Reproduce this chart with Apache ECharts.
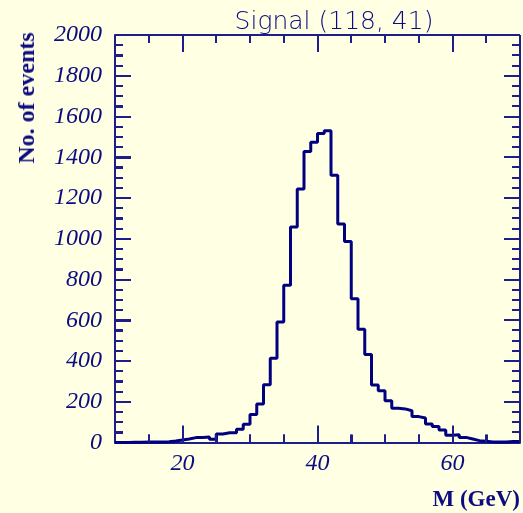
<!DOCTYPE html>
<html>
<head>
<meta charset="utf-8">
<script src="https://cdn.jsdelivr.net/npm/echarts@6/dist/echarts.min.js"></script>
<style>
html,body{margin:0;padding:0;background:#ffffe4;}
#wrap{position:relative;width:523px;height:513px;}
#chart{position:absolute;left:0;top:0;width:523px;height:513px;}
.lbl{position:absolute;color:#0c0c80;white-space:nowrap;}
#t1{left:334px;top:8px;transform:translateX(-50%);font:200 25px "DejaVu Sans";line-height:25px;}
#t2{left:26px;top:98px;transform:translate(-50%,-50%) rotate(-90deg);font:bold 24px "Liberation Serif";line-height:24px;}
#t3{right:3px;top:487px;font:bold 23px "Liberation Serif";line-height:23px;}
</style>
</head>
<body>
<div id="wrap">
<div id="chart"></div>
<div class="lbl" id="t1"></div>
<div class="lbl" id="t2"></div>
<div class="lbl" id="t3"></div>
</div>
<script>
// Histogram bins: lower edges (GeV), width 1 GeV
const binEdges = [10,11,12,13,14,15,16,17,18,19,20,21,22,23,24,25,26,27,28,29,
  30,31,32,33,34,35,36,37,38,39,40,41,42,43,44,45,46,47,48,49,
  50,51,52,53,54,55,56,57,58,59,60,61,62,63,64,65,66,67,68,69];
const binUpperLast = 70;
const counts = [0,0,1,1,2,2,3,4,7,12,17,24,24,27,16,42,48,48,65,89,
  138,189,284,414,592,772,1058,1244,1428,1474,1516,1530,1312,1072,986,706,556,432,282,254,
  205,168,165,156,127,120,91,78,61,36,38,25,17,9,6,3,2,2,5,5];
// Axis tick values
const xLabelValues = [20,40,60];
const xMinorTicks = [15,25,30,35,45,50,55,65];
const yMajorTicks = [200,400,600,800,1000,1200,1400,1600,1800];
const yMinorTicks = [50,100,150,250,300,350,450,500,550,650,700,750,850,900,950,
  1050,1100,1150,1250,1300,1350,1450,1500,1550,1650,1700,1750,1850,1900,1950];
const titleText = 'Signal (118, 41)';
const yTitle = 'No. of events';
const xTitle = 'M (GeV)';

document.getElementById('t1').textContent = titleText;
document.getElementById('t2').textContent = yTitle;
document.getElementById('t3').textContent = xTitle;

const navy = '#0c0c80';
const axisCol = '#1e1e8a';
const lineData = binEdges.map((e,i)=>[e, counts[i]]);
lineData.push([binUpperLast, counts[counts.length-1]]);
const labelFont = {color: navy, fontFamily: 'Liberation Serif', fontStyle: 'italic', fontSize: 24};

// tick items: [x, y, isMajor, isYTick, side(0 = bottom/left, 1 = top/right)]
const tickData = [];
[0, 1].forEach(side => {
  xLabelValues.forEach(v => tickData.push([v, 0, 1, 0, side]));
  xMinorTicks.forEach(v => tickData.push([v, 0, 0, 0, side]));
  yMajorTicks.forEach(v => tickData.push([10, v, 1, 1, side]));
  yMinorTicks.forEach(v => tickData.push([10, v, 0, 1, side]));
});

function renderTick(params, api) {
  const cs = params.coordSys;
  const isMajor = api.value(2) === 1;
  const isY = api.value(3) === 1;
  const side = api.value(4);
  const p = api.coord([api.value(0), api.value(1)]);
  const style = {stroke: axisCol, lineWidth: 2};
  let shape;
  if (!isY) {
    const len = isMajor ? 17 : 8;
    const x = Math.round(p[0]);
    shape = side === 0
      ? {x1: x, y1: cs.y + cs.height, x2: x, y2: cs.y + cs.height - len}
      : {x1: x, y1: cs.y, x2: x, y2: cs.y + len};
  } else {
    const len = isMajor ? 16 : 8;
    const y = Math.round(p[1]);
    shape = side === 0
      ? {x1: cs.x, y1: y, x2: cs.x + len, y2: y}
      : {x1: cs.x + cs.width, y1: y, x2: cs.x + cs.width - len, y2: y};
  }
  const children = [{type: 'line', shape: shape, style: style}];
  if (params.dataIndex === 0) {
    // top and right frame lines of the plot box
    children.push({type: 'line', shape: {x1: cs.x, y1: cs.y, x2: cs.x + cs.width, y2: cs.y}, style: style});
    children.push({type: 'line', shape: {x1: cs.x + cs.width, y1: cs.y, x2: cs.x + cs.width, y2: cs.y + cs.height}, style: style});
  }
  return {type: 'group', children: children};
}

const chart = echarts.init(document.getElementById('chart'), null, {renderer: 'canvas'});
chart.setOption({
  backgroundColor: '#ffffe4',
  animation: false,
  grid: {left: 115, right: 1, top: 35, bottom: 70.5},
  xAxis: {
    type: 'value', min: 10, max: 70, interval: 5,
    axisLine: {show: true, lineStyle: {color: axisCol, width: 2}},
    splitLine: {show: false},
    axisTick: {show: true, inside: true, length: 8, lineStyle: {color: axisCol, width: 2}},
    axisLabel: Object.assign({show: true, margin: 9, formatter: v => (xLabelValues.indexOf(v) >= 0 ? String(v) : '')}, labelFont)
  },
  yAxis: {
    type: 'value', min: 0, max: 2000, interval: 200,
    axisLine: {show: true, lineStyle: {color: axisCol, width: 2}},
    splitLine: {show: false},
    axisTick: {show: true, inside: true, length: 16, lineStyle: {color: axisCol, width: 2}},
    minorTick: {show: true, splitNumber: 4, length: 8, lineStyle: {color: axisCol, width: 2}},
    axisLabel: Object.assign({show: true, margin: 13, formatter: v => String(v)}, labelFont)
  },
  series: [
    {
      type: 'custom', renderItem: renderTick, data: tickData, clip: false,
      encode: {x: 0, y: 1}, z: 3
    },
    {
      type: 'line', step: 'end', showSymbol: false, symbol: 'none',
      data: lineData, lineStyle: {color: '#000080', width: 3}, z: 2
    }
  ]
});
</script>
</body>
</html>
